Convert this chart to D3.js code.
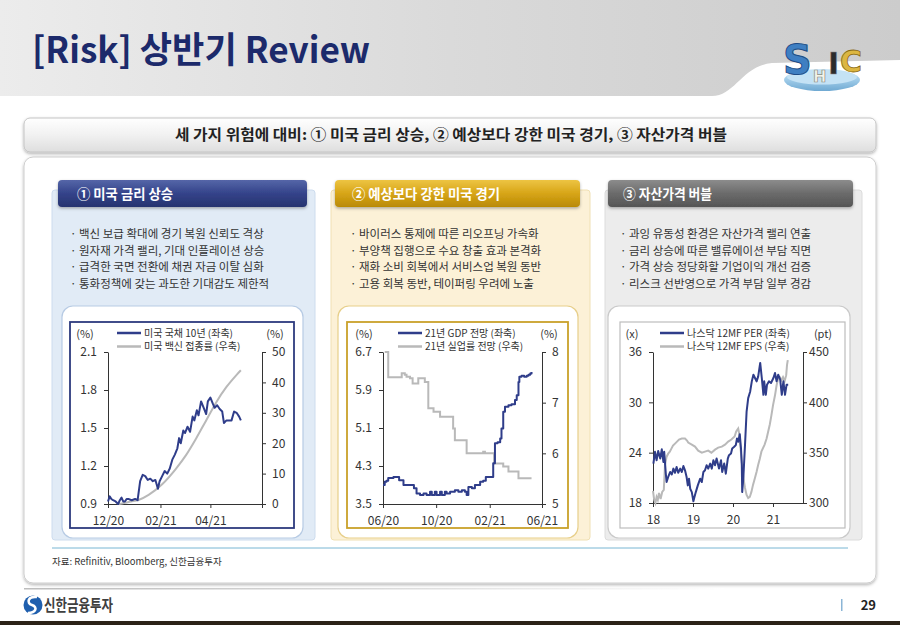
<!DOCTYPE html>
<html><head><meta charset="utf-8">
<script src="https://cdn.jsdelivr.net/npm/d3@7"></script>
<style>
body{margin:0;background:#fff;}
svg{display:block;font-family:"Noto Sans CJK KR","Noto Sans",sans-serif;}
</style>
</head><body>
<svg id="c" width="900" height="625"></svg>
<script>
// ---------------- texts ----------------
const titleText = "[Risk] 상반기 Review";
const subtitleText = "세 가지 위험에 대비: ① 미국 금리 상승, ② 예상보다 강한 미국 경기, ③ 자산가격 버블";
const panelTitles = ["① 미국 금리 상승", "② 예상보다 강한 미국 경기", "③ 자산가격 버블"];
const bullets1 = ["· 백신 보급 확대에 경기 복원 신뢰도 격상", "· 원자재 가격 랠리, 기대 인플레이션 상승", "· 급격한 국면 전환에 채권 자금 이탈 심화", "· 통화정책에 갖는 과도한 기대감도 제한적"];
const bullets2 = ["· 바이러스 통제에 따른 리오프닝 가속화", "· 부양책 집행으로 수요 창출 효과 본격화", "· 재화 소비 회복에서 서비스업 복원 동반", "· 고용 회복 동반, 테이퍼링 우려에 노출"];
const bullets3 = ["· 과잉 유동성 환경은 자산가격 랠리 연출", "· 금리 상승에 따른 밸류에이션 부담 직면", "· 가격 상승 정당화할 기업이익 개선 검증", "· 리스크 선반영으로 가격 부담 일부 경감"];
const sourceText = "자료: Refinitiv, Bloomberg, 신한금융투자";
const footerText = "신한금융투자";
const pageNumber = "29";
const logoLetters = ["S", "H", "I", "C"];

// ---------------- chart 1 ----------------
const c1Legend = ["미국 국채 10년 (좌축)", "미국 백신 접종률 (우축)"];
const c1Units = ["(%)", "(%)"];
const c1XTicks = ["2020-12-01", "2021-02-01", "2021-04-01", "2021-06-01"];
const c1XLabels = ["12/20", "02/21", "04/21", ""];
const c1LeftTicks = [0.9, 1.2, 1.5, 1.8, 2.1];
const c1RightTicks = [0, 10, 20, 30, 40, 50];
const ust10Dates = ["2020-12-01","2020-12-03","2020-12-05","2020-12-07","2020-12-10","2020-12-13","2020-12-15","2020-12-17","2020-12-19","2020-12-21","2020-12-23","2020-12-25","2020-12-29","2021-01-02","2021-01-05","2021-01-08","2021-01-11","2021-01-14","2021-01-17","2021-01-20","2021-01-23","2021-01-26","2021-01-29","2021-01-31","2021-02-03","2021-02-06","2021-02-09","2021-02-12","2021-02-15","2021-02-18","2021-02-21","2021-02-23","2021-02-25","2021-02-28","2021-03-02","2021-03-05","2021-03-08","2021-03-11","2021-03-13","2021-03-16","2021-03-18","2021-03-21","2021-03-24","2021-03-27","2021-03-29","2021-04-01","2021-04-04","2021-04-06","2021-04-09","2021-04-12","2021-04-15","2021-04-17","2021-04-20","2021-04-23","2021-04-26","2021-04-29","2021-05-02","2021-05-05","2021-05-07"];
const ust10Values = [0.92,0.96,0.94,0.93,0.92,0.90,0.93,0.95,0.92,0.92,0.94,0.94,0.93,0.94,0.93,1.08,1.13,1.12,1.09,1.10,1.08,1.09,1.02,1.08,1.12,1.16,1.14,1.18,1.25,1.29,1.34,1.42,1.38,1.48,1.46,1.51,1.47,1.59,1.56,1.64,1.60,1.71,1.66,1.61,1.71,1.74,1.69,1.66,1.68,1.65,1.63,1.54,1.56,1.56,1.56,1.63,1.62,1.59,1.56];
const vaxDates = ["2020-12-14","2020-12-20","2020-12-28","2021-01-06","2021-01-18","2021-02-03","2021-02-19","2021-03-03","2021-03-15","2021-03-27","2021-04-08","2021-04-20","2021-05-02","2021-05-07"];
const vaxValues = [0, 0.3, 0.8, 1.3, 3, 6.5, 11.5, 16, 21.5, 27.5, 33.5, 38.5, 42.5, 44];

// ---------------- chart 2 ----------------
const c2Legend = ["21년 GDP 전망 (좌축)", "21년 실업률 전망 (우축)"];
const c2Units = ["(%)", "(%)"];
const c2XTicks = ["2020-06-01", "2020-10-01", "2021-02-01", "2021-06-01"];
const c2XLabels = ["06/20", "10/20", "02/21", "06/21"];
const c2LeftTicks = [3.5, 4.3, 5.1, 5.9, 6.7];
const c2RightTicks = [5, 6, 7, 8];
const gdpDates = ["2020-06-01","2020-06-05","2020-06-09","2020-06-13","2020-06-25","2020-07-08","2020-07-18","2020-08-11","2020-08-17","2020-08-25","2020-09-02","2020-09-09","2020-09-17","2020-09-21","2020-09-28","2020-10-02","2020-10-10","2020-10-14","2020-10-21","2020-10-25","2020-11-02","2020-11-13","2020-11-21","2020-11-29","2020-12-06","2020-12-10","2020-12-14","2020-12-22","2020-12-29","2021-01-10","2021-01-17","2021-01-23","2021-02-09","2021-02-13","2021-02-19","2021-02-25","2021-02-28","2021-03-04","2021-03-08","2021-03-16","2021-03-23","2021-03-31","2021-04-04","2021-04-08","2021-04-10","2021-04-15","2021-04-21","2021-04-27","2021-05-01","2021-05-05","2021-05-08"];
const gdpValues = [3.90,3.97,3.99,4.05,4.07,4.00,3.90,3.83,3.72,3.69,3.72,3.69,3.76,3.69,3.76,3.69,3.76,3.69,3.76,3.72,3.76,3.79,3.76,3.79,3.76,3.69,3.86,3.83,3.90,3.97,3.99,4.07,4.36,4.78,4.80,4.88,5.09,5.44,5.55,5.58,5.60,5.69,5.79,6.07,6.18,6.20,6.18,6.20,6.22,6.25,6.28];
const unempDates = ["2020-06-05","2020-06-13","2020-07-14","2020-07-21","2020-07-25","2020-08-02","2020-08-08","2020-08-21","2020-09-05","2020-09-13","2020-09-25","2020-10-10","2020-11-09","2020-11-13","2020-12-10","2021-01-17","2021-01-21","2021-02-11","2021-03-04","2021-03-16","2021-04-08","2021-05-08"];
const unempValues = [8.0,7.50,7.58,7.55,7.51,7.48,7.38,7.48,7.41,6.89,6.82,6.72,6.49,6.26,6.00,6.03,6.00,5.80,5.74,5.64,5.51,5.51];

// ---------------- chart 3 ----------------
const c3Legend = ["나스닥 12MF PER (좌축)", "나스닥 12MF EPS (우축)"];
const c3Units = ["(x)", "(pt)"];
const c3XTicks = [2018, 2019, 2020, 2021];
const c3XLabels = ["18", "19", "20", "21"];
const c3LeftTicks = [18, 24, 30, 36];
const c3RightTicks = [300, 350, 400, 450];
const perYears = [2018.01,2018.05,2018.09,2018.13,2018.18,2018.22,2018.26,2018.28,2018.32,2018.34,2018.38,2018.43,2018.47,2018.51,2018.55,2018.59,2018.63,2018.68,2018.72,2018.76,2018.80,2018.84,2018.87,2018.90,2018.93,2018.97,2019.01,2019.03,2019.07,2019.12,2019.18,2019.22,2019.26,2019.30,2019.34,2019.38,2019.43,2019.47,2019.51,2019.55,2019.59,2019.65,2019.70,2019.73,2019.78,2019.82,2019.87,2019.90,2019.95,2019.98,2020.03,2020.07,2020.10,2020.13,2020.17,2020.18,2020.20,2020.22,2020.23,2020.26,2020.30,2020.34,2020.38,2020.43,2020.47,2020.51,2020.55,2020.59,2020.63,2020.68,2020.72,2020.76,2020.78,2020.82,2020.85,2020.90,2020.95,2021.01,2021.05,2021.09,2021.13,2021.18,2021.22,2021.26,2021.30,2021.34,2021.38];
const perValues = [22.7,24.1,23.1,24.2,23.3,24.4,22.9,24.1,21.5,20.5,21.1,21.7,21.4,22.1,21.6,22.3,21.6,22.1,21.7,22.4,21.9,21.1,20.1,20.9,19.7,19.3,18.2,18.6,19.3,20.1,20.9,20.5,21.7,21.9,22.5,22.1,22.7,22.1,23.1,22.5,23.3,22.1,23.1,21.7,22.7,21.5,23.3,23.7,23.9,24.5,24.7,24.9,25.7,25.3,26.2,25.6,24.5,22.5,19.3,21.1,24.9,28.9,30.5,31.3,32.5,33.3,32.9,32.5,33.1,34.7,32.9,30.9,32.5,30.9,32.1,32.5,32.3,32.9,33.5,32.5,33.3,32.7,30.9,32.5,30.9,32.1,32.1];
const epsYears = [2018.00,2018.03,2018.06,2018.09,2018.12,2018.15,2018.19,2018.23,2018.27,2018.30,2018.34,2018.38,2018.42,2018.46,2018.50,2018.55,2018.60,2018.65,2018.72,2018.80,2018.85,2018.88,2018.97,2019.05,2019.13,2019.22,2019.30,2019.38,2019.46,2019.55,2019.63,2019.72,2019.80,2019.88,2019.96,2020.04,2020.08,2020.13,2020.15,2020.18,2020.22,2020.26,2020.30,2020.34,2020.38,2020.42,2020.46,2020.50,2020.55,2020.59,2020.63,2020.67,2020.71,2020.79,2020.84,2020.88,2020.92,2020.96,2021.00,2021.05,2021.09,2021.13,2021.17,2021.21,2021.25,2021.29,2021.33,2021.35,2021.37];
const epsValues = [312,303,300,306,303,310,304,311,313,338,346,349,351,354,357,359,361,363,364,364,362,360,358,356,352,350,351,352,350,353,355,356,358,361,363,366,371,374,370,358,341,325,315,308,305,306,311,318,325,331,338,344,351,358,364,371,378,387,397,407,417,424,425,422,425,421,427,437,442];

// ---------------- drawing ----------------
const NAVY = "#2f3d8a", GRAY = "#b9b9b9";
const svg = d3.select("#c");
const defs = svg.append("defs");
function grad(id, stops, vertical = true) {
  const g = defs.append("linearGradient").attr("id", id)
    .attr("x1", 0).attr("y1", 0).attr("x2", vertical ? 0 : 1).attr("y2", vertical ? 1 : 0);
  stops.forEach((s, i) => g.append("stop").attr("offset", i / (stops.length - 1)).attr("stop-color", s));
}
grad("hdr", ["#ececec", "#dadada", "#cccccc"], false);
grad("sub", ["#ffffff", "#f1f1f1", "#dedede"]);
grad("bar1", ["#5566a8", "#34438a", "#26336f"]);
grad("bar2", ["#edc443", "#d7a517", "#b98a05"]);
grad("bar3", ["#8c8c8c", "#6b6b6b", "#555555"]);
grad("foot", ["#bdbdbd", "#d9d9d9", "#ffffff"], false);
grad("disc", ["#cfe8f7", "#9fcbe8", "#6fa9d2"]);
const f = defs.append("filter").attr("id", "sh").attr("x", "-5%").attr("y", "-20%").attr("width", "110%").attr("height", "150%");
f.append("feDropShadow").attr("dx", 0).attr("dy", 1.5).attr("stdDeviation", 1.5).attr("flood-color", "#000").attr("flood-opacity", 0.3);

// header band
svg.append("rect").attr("x", 0).attr("y", 0).attr("width", 900).attr("height", 96).attr("fill", "url(#hdr)");
svg.append("path").attr("d", "M712,96 C735,96 742,66 772,63 L900,60 L900,96 Z").attr("fill", "#fff");
svg.append("text").attr("x", 32).attr("y", 63).attr("font-size", 36).attr("font-weight", 700)
  .attr("fill", "#1c2a6b").attr("textLength", 338).attr("lengthAdjust", "spacingAndGlyphs").text(titleText);

// logo SHIC (letters side by side)
const lg = svg.append("g").attr("font-family", "DejaVu Sans").attr("font-weight", 700);
lg.append("ellipse").attr("cx", 822).attr("cy", 80).attr("rx", 38).attr("ry", 11).attr("fill", "url(#disc)");
lg.append("ellipse").attr("cx", 822).attr("cy", 77).attr("rx", 35).attr("ry", 7.5).attr("fill", "#c4e2f5");
lg.append("text").attr("x", 783).attr("y", 74).attr("font-size", 40).attr("fill", "#3f7fc2").attr("stroke", "#1d4c86").attr("stroke-width", 1).text(logoLetters[0]);
lg.append("text").attr("x", 813).attr("y", 82).attr("font-size", 16).attr("fill", "#f4f4ea").attr("stroke", "#8d8d80").attr("stroke-width", 0.7).text(logoLetters[1]);
lg.append("text").attr("x", 828).attr("y", 74).attr("font-size", 30).attr("fill", "#2c2c2c").attr("stroke", "#888").attr("stroke-width", 0.5).text(logoLetters[2]);
lg.append("text").attr("x", 840).attr("y", 72).attr("font-size", 30).attr("fill", "#dcb640").attr("stroke", "#8a6a12").attr("stroke-width", 0.8).text(logoLetters[3]);

// subtitle box
svg.append("rect").attr("x", 24).attr("y", 118).attr("width", 852).attr("height", 34).attr("rx", 6)
  .attr("fill", "url(#sub)").attr("stroke", "#c4c4c4").attr("filter", "url(#sh)");
svg.append("text").attr("x", 451).attr("y", 140).attr("text-anchor", "middle").attr("font-size", 14.5).attr("font-weight", 700)
  .attr("fill", "#222").attr("textLength", 552).attr("lengthAdjust", "spacingAndGlyphs").text(subtitleText);

// main panel
svg.append("rect").attr("x", 24).attr("y", 157).attr("width", 852).attr("height", 426).attr("rx", 9)
  .attr("fill", "#fff").attr("stroke", "#cdcdcd").attr("filter", "url(#sh)");

// columns
const cols = [
  {bgX: 52, bgW: 263, bg: "#e1ebf6", bgStroke: "#cddcee", barX: 58, barW: 249, bar: "url(#bar1)", titleX: 77, titleW: 96,
   lineX: 70, lines: bullets1, boxX: 62, boxW: 241, boxStroke: "#b7cbe4", frame: "#2d3a7e", frameX: 70, frameW: 224},
  {bgX: 331, bgW: 259, bg: "#fcf1d7", bgStroke: "#f0e0b3", barX: 335, barW: 245, bar: "url(#bar2)", titleX: 352, titleW: 148,
   lineX: 350, lines: bullets2, boxX: 338, boxW: 240, boxStroke: "#e7cf8a", frame: "#c9a12a", frameX: 347, frameW: 221},
  {bgX: 605, bgW: 257, bg: "#ececec", bgStroke: "#dcdcdc", barX: 608, barW: 245, bar: "url(#bar3)", titleX: 623, titleW: 89,
   lineX: 620, lines: bullets3, boxX: 608, boxW: 242, boxStroke: "#cacaca", frame: "#bdbdbd", frameX: 620, frameW: 225}
];
cols.forEach((c, i) => {
  svg.append("rect").attr("x", c.bgX).attr("y", 190).attr("width", c.bgW).attr("height", 350).attr("rx", 3)
    .attr("fill", c.bg).attr("stroke", c.bgStroke);
  svg.append("rect").attr("x", c.barX).attr("y", 180).attr("width", c.barW).attr("height", 27).attr("rx", 4)
    .attr("fill", c.bar).attr("filter", "url(#sh)");
  svg.append("text").attr("x", c.titleX).attr("y", 199).attr("font-size", 14).attr("font-weight", 700).attr("fill", "#fff")
    .attr("textLength", c.titleW).attr("lengthAdjust", "spacingAndGlyphs").text(panelTitles[i]);
  c.lines.forEach((t, j) => {
    svg.append("text").attr("x", c.lineX).attr("y", 238 + j * 16.7).attr("font-size", 11.5).attr("fill", "#333").text(t);
  });
  svg.append("rect").attr("x", c.boxX).attr("y", 306).attr("width", c.boxW).attr("height", 232).attr("rx", 11)
    .attr("fill", "#fff").attr("stroke", c.boxStroke).attr("stroke-width", 1.2);
  svg.append("rect").attr("x", c.frameX).attr("y", 322).attr("width", c.frameW).attr("height", 206)
    .attr("fill", "#fff").attr("stroke", c.frame).attr("stroke-width", i === 2 ? 1.2 : 1.8);
});

// chart helper
function chart(cfg) {
  const g = svg.append("g").attr("font-size", 12);
  const yL = d3.scaleLinear().domain(cfg.lDom).range([cfg.y0, cfg.y1]);
  const yR = d3.scaleLinear().domain(cfg.rDom).range([cfg.y0, cfg.y1]);
  const ax = (sel) => { sel.select(".domain").attr("stroke", "#333"); sel.selectAll(".tick line").attr("stroke", "#333");
    sel.selectAll("text").attr("fill", "#333").attr("font-size", 12).attr("font-family", "'Noto Sans CJK KR', sans-serif"); };
  g.append("g").attr("transform", `translate(${cfg.x0},0)`)
    .call(d3.axisLeft(yL).tickValues(cfg.lTicks).tickFormat(cfg.lFmt).tickSize(4).tickPadding(7).tickSizeOuter(0)).call(ax);
  g.append("g").attr("transform", `translate(${cfg.x1},0)`)
    .call(d3.axisRight(yR).tickValues(cfg.rTicks).tickFormat(cfg.rFmt).tickSize(4).tickPadding(cfg.rPad).tickSizeOuter(0)).call(ax);
  g.append("g").attr("transform", `translate(0,${cfg.y0})`)
    .call(d3.axisBottom(cfg.x).tickValues(cfg.xTicks).tickFormat((d, i) => cfg.xLabels[i]).tickSize(4).tickPadding(8).tickSizeOuter(0)).call(ax);
  g.append("path").datum(cfg.sR).attr("fill", "none").attr("stroke", GRAY).attr("stroke-width", 2)
    .attr("d", d3.line().x(d => cfg.x(d[0])).y(d => yR(d[1])).curve(cfg.curveR));
  g.append("path").datum(cfg.sL).attr("fill", "none").attr("stroke", NAVY).attr("stroke-width", 2)
    .attr("stroke-linejoin", "round")
    .attr("d", d3.line().x(d => cfg.x(d[0])).y(d => yL(d[1])).curve(cfg.curveL));
  g.append("text").attr("x", cfg.uL).attr("y", 338).attr("text-anchor", "middle").attr("font-size", 11).attr("fill", "#333").text(cfg.units[0]);
  g.append("text").attr("x", cfg.uR).attr("y", 338).attr("text-anchor", "middle").attr("font-size", 11).attr("fill", "#333").text(cfg.units[1]);
  [NAVY, GRAY].forEach((col, i) => {
    const yy = 333 + i * 13.5;
    g.append("line").attr("x1", cfg.legX).attr("x2", cfg.legX + 24).attr("y1", yy).attr("y2", yy).attr("stroke", col).attr("stroke-width", 2.5);
    g.append("text").attr("x", cfg.legX + 27).attr("y", yy + 3.5).attr("font-size", 10).attr("fill", "#333").text(cfg.legend[i]);
  });
}
const pd = d3.timeParse("%Y-%m-%d");

chart({
  x: d3.scaleTime().domain([pd("2020-12-01"), pd("2021-06-01")]).range([108, 262]),
  x0: 108, x1: 262, y0: 504, y1: 352,
  lDom: [0.9, 2.1], rDom: [0, 50], lTicks: c1LeftTicks, rTicks: c1RightTicks,
  lFmt: d3.format(".1f"), rFmt: d3.format("d"), rPad: 6,
  xTicks: c1XTicks.map(pd), xLabels: c1XLabels,
  sL: d3.zip(ust10Dates.map(pd), ust10Values), sR: d3.zip(vaxDates.map(pd), vaxValues),
  curveL: d3.curveLinear, curveR: d3.curveMonotoneX,
  units: c1Units, uL: 85, uR: 275, legX: 117, legend: c1Legend
});
chart({
  x: d3.scaleTime().domain([pd("2020-06-01"), pd("2021-06-01")]).range([383, 542]),
  x0: 383, x1: 542, y0: 504, y1: 352,
  lDom: [3.5, 6.7], rDom: [5, 8], lTicks: c2LeftTicks, rTicks: c2RightTicks,
  lFmt: d3.format(".1f"), rFmt: d3.format("d"), rPad: 6,
  xTicks: c2XTicks.map(pd), xLabels: c2XLabels,
  sL: d3.zip(gdpDates.map(pd), gdpValues), sR: d3.zip(unempDates.map(pd), unempValues),
  curveL: d3.curveStepAfter, curveR: d3.curveStepAfter,
  units: c2Units, uL: 364, uR: 549, legX: 398, legend: c2Legend
});
chart({
  x: d3.scaleLinear().domain([2018, 2021.75]).range([653, 803]),
  x0: 653, x1: 803, y0: 503, y1: 352,
  lDom: [18, 36], rDom: [300, 450], lTicks: c3LeftTicks, rTicks: c3RightTicks,
  lFmt: d3.format("d"), rFmt: d3.format("d"), rPad: 2,
  xTicks: c3XTicks, xLabels: c3XLabels,
  sL: d3.zip(perYears, perValues), sR: d3.zip(epsYears, epsValues),
  curveL: d3.curveLinear, curveR: d3.curveLinear,
  units: c3Units, uL: 632, uR: 823, legX: 660, legend: c3Legend
});

// source
svg.append("line").attr("x1", 52).attr("x2", 848).attr("y1", 548).attr("y2", 548).attr("stroke", "#79b6d3").attr("stroke-width", 1);
svg.append("text").attr("x", 52).attr("y", 565).attr("font-size", 9.5).attr("fill", "#333").text(sourceText);

// footer
svg.append("rect").attr("x", 24).attr("y", 588).attr("width", 700).attr("height", 1.5).attr("fill", "url(#foot)");
svg.append("circle").attr("cx", 33).attr("cy", 605).attr("r", 9.5).attr("fill", "#1f5fae");
svg.append("path").attr("d", "M37,597 C28,596 26,603 32,605 C38,607 36,613 28,613").attr("fill", "none").attr("stroke", "#fff").attr("stroke-width", 2.6);
svg.append("text").attr("x", 44).attr("y", 611).attr("font-size", 16).attr("font-weight", 700).attr("fill", "#3f3f3f")
  .attr("textLength", 69).attr("lengthAdjust", "spacingAndGlyphs").text(footerText);
svg.append("rect").attr("x", 841).attr("y", 599).attr("width", 1.5).attr("height", 12).attr("fill", "#8bb5d6");
svg.append("text").attr("x", 876).attr("y", 610).attr("text-anchor", "end").attr("font-size", 13).attr("font-weight", 700).attr("fill", "#222").text(pageNumber);
svg.append("rect").attr("x", 0).attr("y", 621).attr("width", 900).attr("height", 4).attr("fill", "#2b2218");
</script>
</body></html>
